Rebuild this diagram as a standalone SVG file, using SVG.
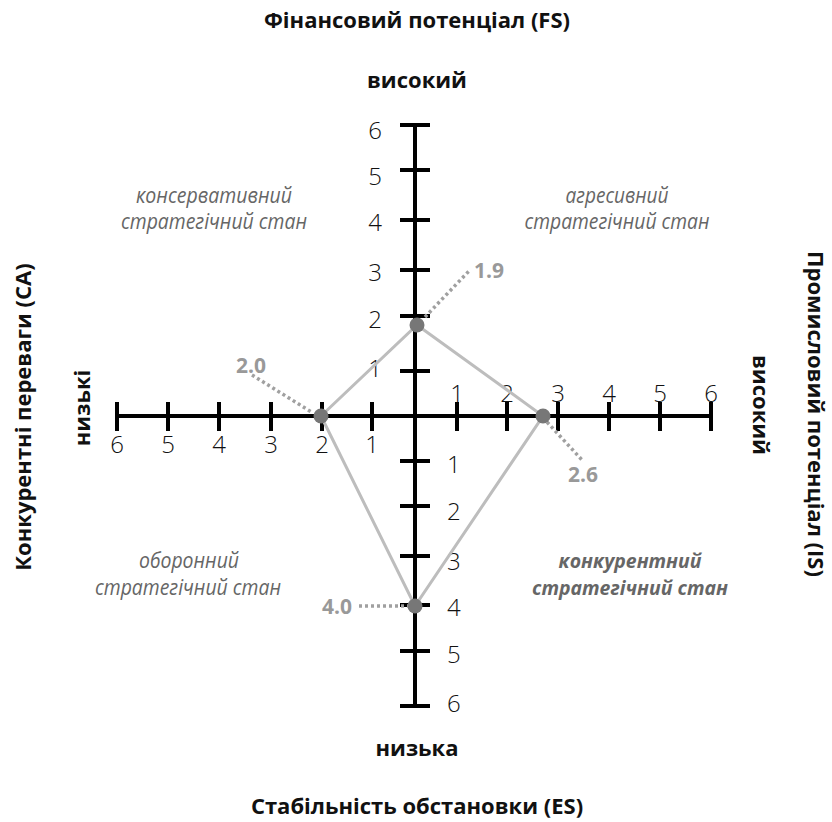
<svg xmlns="http://www.w3.org/2000/svg" width="832" height="822" viewBox="0 0 832 822">
<style>
.title{font-family:"Open Sans","Noto Sans",sans-serif;font-weight:700;font-size:22px;fill:#111}
.lvl{font-family:"Open Sans","Noto Sans",sans-serif;font-weight:700;font-size:22px;fill:#111}
.num{font-family:"Open Sans","Noto Sans",sans-serif;font-weight:300;font-size:24px;fill:#111}
.quad{font-family:"Open Sans","Noto Sans",sans-serif;font-style:italic;font-weight:400;font-size:21px;fill:#666}
.quadb{font-family:"Open Sans","Noto Sans",sans-serif;font-style:italic;font-weight:700;font-size:20px;fill:#666}
.val{font-family:"Open Sans","Noto Sans",sans-serif;font-weight:700;font-size:21px;fill:#999}
.axis{stroke:#000;stroke-width:4;fill:none}
.lead{stroke:#a0a0a0;stroke-width:3.5;stroke-dasharray:3 3;fill:none}
.poly{stroke:#bdbdbd;stroke-width:3;fill:none}
.pt{fill:#777}
</style>
<rect width="832" height="822" fill="#fff"/>
<g id="titles">
<text class="title" x="417" y="28" text-anchor="middle">Фінансовий потенціал (FS)</text>
<text class="lvl" x="417" y="88" text-anchor="middle">високий</text>
<text class="lvl" x="417" y="756" text-anchor="middle">низька</text>
<text class="title" x="417" y="814" text-anchor="middle">Стабільність обстановки (ES)</text>
<text class="title" transform="translate(31,417) rotate(-90)" text-anchor="middle">Конкурентні переваги (CA)</text>
<text class="lvl" transform="translate(90,408) rotate(-90)" text-anchor="middle">низькі</text>
<text class="title" transform="translate(808,414) rotate(90)" text-anchor="middle">Промисловий потенціал (IS)</text>
<text class="lvl" transform="translate(753,405) rotate(90)" text-anchor="middle">високий</text>
</g>
<g id="axes">
<line class="axis" x1="117" y1="416" x2="711" y2="416"/>
<line class="axis" x1="415" y1="125" x2="415" y2="706"/>
<path class="axis" d="M117 402V431M168 402V431M219 402V431M271 402V431M322 402V431M372 402V431M457 402V431M507 402V431M558 402V431M609 402V431M660 402V431M711 402V431"/>
<path class="axis" d="M400 125H430M400 170H430M400 220H430M400 270H430M400 316H430M400 371H430M400 461H430M400 506H430M400 556H430M400 605H430M400 651H430M400 706H430"/>
</g>
<g id="tick-labels" class="num">
<text x="117" y="453" text-anchor="middle">6</text>
<text x="168" y="453" text-anchor="middle">5</text>
<text x="219" y="453" text-anchor="middle">4</text>
<text x="271" y="453" text-anchor="middle">3</text>
<text x="322" y="453" text-anchor="middle">2</text>
<text x="372" y="453" text-anchor="middle">1</text>
<text x="457" y="402" text-anchor="middle">1</text>
<text x="507" y="402" text-anchor="middle">2</text>
<text x="558" y="402" text-anchor="middle">3</text>
<text x="609" y="402" text-anchor="middle">4</text>
<text x="660" y="402" text-anchor="middle">5</text>
<text x="711" y="402" text-anchor="middle">6</text>
<text x="382" y="139" text-anchor="end">6</text>
<text x="382" y="185" text-anchor="end">5</text>
<text x="382" y="231" text-anchor="end">4</text>
<text x="382" y="281" text-anchor="end">3</text>
<text x="382" y="328" text-anchor="end">2</text>
<text x="382" y="377" text-anchor="end">1</text>
<text x="447" y="473">1</text>
<text x="447" y="520">2</text>
<text x="447" y="570">3</text>
<text x="447" y="616">4</text>
<text x="447" y="663">5</text>
<text x="447" y="712">6</text>
</g>
<g id="quadrants">
<text class="quad" x="214" y="203" text-anchor="middle" textLength="156" lengthAdjust="spacingAndGlyphs">консервативний</text>
<text class="quad" x="214" y="229" text-anchor="middle" textLength="186" lengthAdjust="spacingAndGlyphs">стратегічний стан</text>
<text class="quad" x="617" y="203" text-anchor="middle" textLength="103" lengthAdjust="spacingAndGlyphs">агресивний</text>
<text class="quad" x="617" y="229" text-anchor="middle" textLength="185" lengthAdjust="spacingAndGlyphs">стратегічний стан</text>
<text class="quad" x="189" y="568" text-anchor="middle" textLength="100" lengthAdjust="spacingAndGlyphs">оборонний</text>
<text class="quad" x="188" y="595" text-anchor="middle" textLength="186" lengthAdjust="spacingAndGlyphs">стратегічний стан</text>
<text class="quadb" x="630" y="568" text-anchor="middle" textLength="143" lengthAdjust="spacingAndGlyphs">конкурентний</text>
<text class="quadb" x="630" y="595" text-anchor="middle" textLength="196" lengthAdjust="spacingAndGlyphs">стратегічний стан</text>
</g>
<g id="connectors">
<polygon class="poly" points="417,325 543,416 415,606 321,416"/>
<line class="lead" x1="425" y1="317" x2="470" y2="270"/>
<line class="lead" x1="252" y1="375" x2="313" y2="413"/>
<line class="lead" x1="547" y1="422" x2="582" y2="460"/>
<line class="lead" x1="359" y1="606" x2="408" y2="606"/>
</g>
<g id="point-FS"><circle class="pt" cx="417" cy="325" r="7.5"/><text class="val" x="474" y="278">1.9</text></g>
<g id="point-IS"><circle class="pt" cx="543" cy="416" r="7.5"/><text class="val" x="568" y="482">2.6</text></g>
<g id="point-ES"><circle class="pt" cx="415" cy="606" r="7.5"/><text class="val" x="322" y="614">4.0</text></g>
<g id="point-CA"><circle class="pt" cx="321" cy="416" r="7.5"/><text class="val" x="236" y="373">2.0</text></g>
</svg>
